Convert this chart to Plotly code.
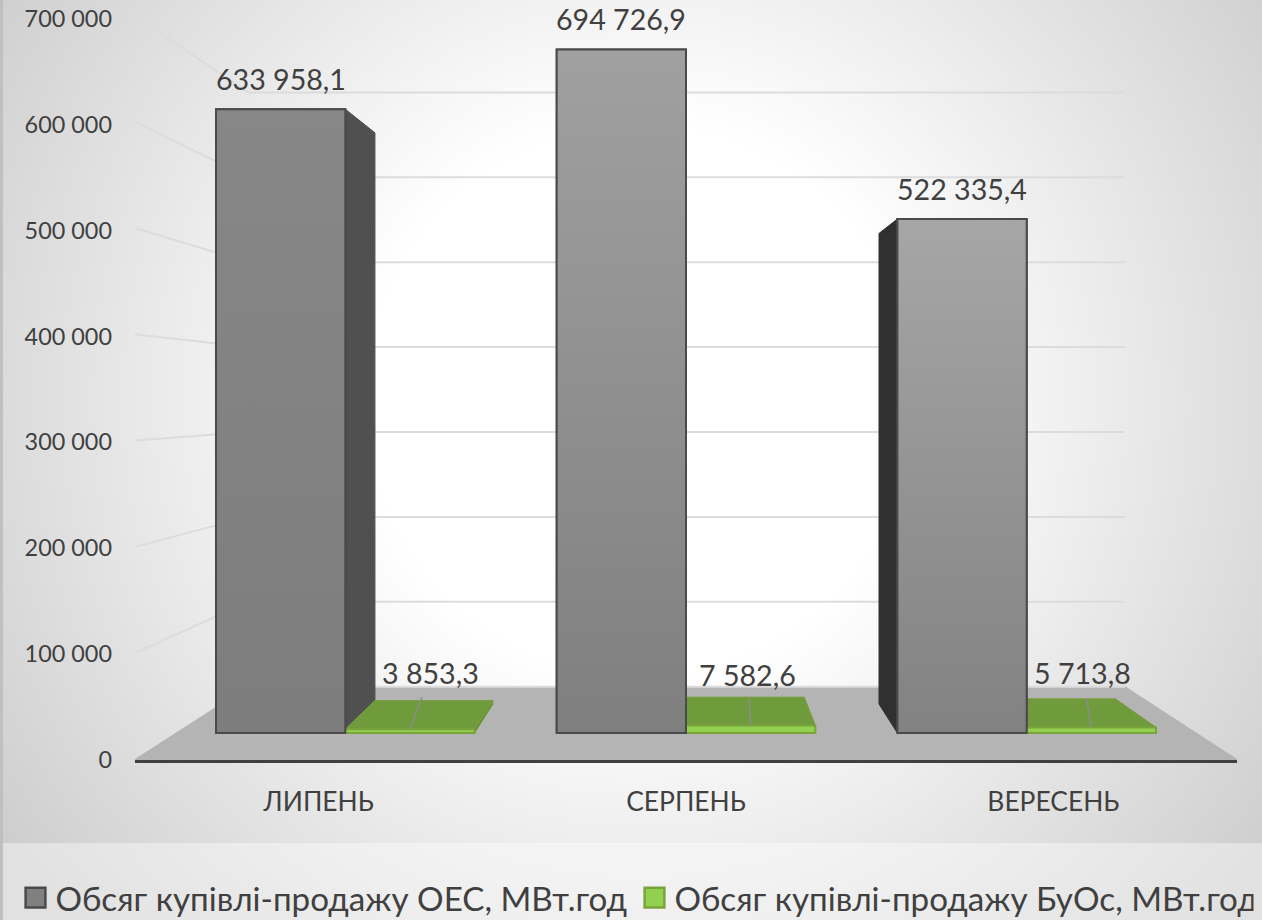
import base64
import plotly.graph_objects as go

# ---------- data ----------
categories = ["ЛИПЕНЬ", "СЕРПЕНЬ", "ВЕРЕСЕНЬ"]
oes_name = "Обсяг купівлі-продажу ОЕС, МВт.год"
buos_name = "Обсяг купівлі-продажу БуОс, МВт.год"
oes_values = [633958.1, 694726.9, 522335.4]
buos_values = [3853.3, 7582.6, 5713.8]
oes_labels = ["633 958,1", "694 726,9", "522 335,4"]
buos_labels = ["3 853,3", "7 582,6", "5 713,8"]
tick_values = [0, 100000, 200000, 300000, 400000, 500000, 600000, 700000]
tick_labels = ["0", "100 000", "200 000", "300 000", "400 000", "500 000", "600 000", "700 000"]

# ---------- layout / perspective constants ----------
W, H = 1262, 920
CAT_X0, CAT_STEP = 345.3, 340.7       # px of category 0, px per category (front of bars)
BAR_Y0, BAR_SCALE = 733.0, 0.000984   # px of value 0, px per unit (front of bars)
BACK_Y0, BACK_SCALE = 704.0, 0.000901 # plane at the back of the bars
BACK_K = 0.913
WALL_Y0, WALL_SCALE = 686.7, 0.000849 # back wall
AXIS_Y0, AXIS_SCALE = 759.5, 0.001063 # front edge (axis) plane
TICK_TOP = 19.0                       # px of the 700 000 tick label
FLOOR_L, FLOOR_R = 135.0, 1237.0
WALL_L, WALL_R = 248.0, 1125.0
BAR_W = 0.3795
FONT = "Lato"
TXT = "#404040"


def ux(px):
    return (px - CAT_X0) / CAT_STEP


def uy(px):
    return (BAR_Y0 - px) / BAR_SCALE


def back(x, v):
    return 1 + (x - 1) * BACK_K, uy(BACK_Y0 - v * BACK_SCALE)


def wall_y(v):
    return uy(WALL_Y0 - v * WALL_SCALE)


def axis_y(v):
    return uy(AXIS_Y0 - v * AXIS_SCALE)


x_range = [ux(0), ux(W)]
y_range = [uy(H), uy(0)]


def poly(points, fill, line=None, lw=1, **kw):
    xs, ys = zip(*points)
    return go.Scatter(x=list(xs) + [xs[0]], y=list(ys) + [ys[0]], mode="lines", fill="toself",
                      fillcolor=fill, line=dict(color=line or fill, width=lw),
                      hoverinfo="skip", showlegend=False, **kw)


fig = go.Figure()

# floor
fig.add_trace(poly([(ux(FLOOR_L), axis_y(0)), (ux(WALL_L), wall_y(0)),
                    (ux(WALL_R), wall_y(0)), (ux(FLOOR_R), axis_y(0))], "#b4b4b4"))
# back wall + left wall grid lines
for v in tick_values:
    fig.add_trace(go.Scatter(x=[ux(WALL_L), ux(WALL_R)], y=[wall_y(v), wall_y(v)], mode="lines",
                             line=dict(color="#dcdcdc", width=2), hoverinfo="skip", showlegend=False))
    if v:
        fig.add_trace(go.Scatter(x=[ux(FLOOR_L), ux(WALL_L)], y=[axis_y(v), wall_y(v)], mode="lines",
                                 line=dict(color="#dcdcdc", width=2), hoverinfo="skip", showlegend=False))

# side faces of the grey bars
for i, v in enumerate(oes_values):
    if i == 1:
        continue
    edge = i if i < 1 else i - BAR_W
    colour = "#505050" if i < 1 else "#303030"
    fig.add_trace(poly([(edge, v), back(edge, v), back(edge, 0), (edge, 0)], colour))

# top and side faces of the green bars
for i, v in enumerate(buos_values):
    l, r = i, i + BAR_W
    fig.add_trace(poly([(r, v), back(r, v), back(r, 0), (r, 0)], "#5f8a33", "#7a9e3e"))
    fig.add_trace(poly([(l, v), (r, v), back(r, v), back(l, v)], "#6f9b3c", "#7a9e3e"))

# real bars, on an overlaying pair of axes so they sit above the faces
fig.add_trace(go.Bar(x=[0, 1, 2], y=oes_values, name=oes_name, xaxis="x2", yaxis="y2",
                     marker=dict(color="#808080", line=dict(color="#4a4a4a", width=2)), hoverinfo="y"))
fig.add_trace(go.Bar(x=[0, 1, 2], y=buos_values, name=buos_name, xaxis="x2", yaxis="y2",
                     marker=dict(color="#92d050", line=dict(color="#7ba33c", width=2)), hoverinfo="y"))

# vertical shading of the grey bars
top_shades = ["#878787", "#a0a0a0", "#a6a6a6"]
bottom_shades = ["#7d7d7d", "#7f7f7f", "#828282"]
for i, v in enumerate(oes_values):
    xs = [i - BAR_W, i, i, i - BAR_W, i - BAR_W]
    ys = [0, 0, v, v, 0]
    fig.add_trace(go.Scatter(x=xs, y=ys, mode="lines", fill="toself", xaxis="x2", yaxis="y2",
                             line=dict(color="#4a4a4a", width=2),
                             fillgradient=dict(type="vertical", start=0, stop=v,
                                               colorscale=[[0, bottom_shades[i]], [1, top_shades[i]]]),
                             hoverinfo="skip", showlegend=False))

# carrier of the labelled axes
fig.add_trace(go.Scatter(x=[0, 1, 2], y=[0, 0, 0], xaxis="x3", yaxis="y3", mode="markers",
                         marker=dict(opacity=0), hoverinfo="skip", showlegend=False))

# data labels
ann = []
for i, (v, t) in enumerate(zip(oes_values, oes_labels)):
    ann.append(dict(x=i - BAR_W / 2, y=v, xref="x", yref="y", text=t, showarrow=False, yshift=30,
                    font=dict(family=FONT, size=28.6, color=TXT)))
leader_dx = [21, -3, -9]
leader_dy = [-56, -51, -54]
for i, (v, t) in enumerate(zip(buos_values, buos_labels)):
    ann.append(dict(x=i + BAR_W / 2, y=v, xref="x", yref="y", text=t, showarrow=True, arrowhead=0,
                    arrowwidth=1.5, arrowcolor="#8c8c8c", ax=leader_dx[i], ay=leader_dy[i],
                    startstandoff=6, font=dict(family=FONT, size=28.6, color=TXT)))

hidden = dict(visible=False, fixedrange=True)
svg = f'''<svg xmlns="http://www.w3.org/2000/svg" width="{W}" height="{H}" viewBox="0 0 {W} {H}" preserveAspectRatio="none">
<defs><radialGradient id="g" gradientUnits="userSpaceOnUse" cx="640" cy="400" r="780">
<stop offset="0.35" stop-color="#ffffff"/><stop offset="1" stop-color="#cdcdcd"/></radialGradient></defs>
<rect width="{W}" height="{H}" fill="url(#g)"/>
<rect y="843" width="{W}" height="{H - 843}" fill="#ffffff" fill-opacity="0.4"/>
<rect width="3" height="{H}" fill="#c0c0c0"/>
</svg>'''
bg = "data:image/svg+xml;base64," + base64.b64encode(svg.encode()).decode()

fig.update_layout(
    width=W, height=H, margin=dict(l=0, r=0, t=0, b=0, autoexpand=False),
    paper_bgcolor="#ffffff", plot_bgcolor="rgba(0,0,0,0)",
    barmode="group", bargap=1 - 2 * BAR_W, bargroupgap=0,
    font=dict(family=FONT, color=TXT),
    images=[dict(source=bg, xref="paper", yref="paper", x=0, y=1, sizex=1, sizey=1,
                 xanchor="left", yanchor="top", sizing="stretch", layer="below")],
    xaxis=dict(domain=[0, 1], range=x_range, **hidden),
    yaxis=dict(domain=[0, 1], range=y_range, **hidden),
    xaxis2=dict(overlaying="x", range=x_range, **hidden),
    yaxis2=dict(overlaying="y", range=y_range, **hidden),
    xaxis3=dict(domain=[FLOOR_L / W, FLOOR_R / W], range=[-0.5, 2.5], anchor="y3",
                tickmode="array", tickvals=[0, 1, 2], ticktext=categories,
                ticks="outside", ticklen=17, tickcolor="rgba(0,0,0,0)",
                showgrid=False, zeroline=False, showline=True, linecolor="#404040", linewidth=3,
                tickfont=dict(family=FONT, size=26.4, color=TXT), fixedrange=True),
    yaxis3=dict(domain=[(H - AXIS_Y0) / H, (H - TICK_TOP) / H],
                range=[0, 700000], anchor="free", position=112 / W, side="left",
                tickmode="array", tickvals=tick_values, ticktext=tick_labels,
                ticks="", showgrid=False, zeroline=False, showline=False,
                tickfont=dict(family=FONT, size=23.4, color=TXT), fixedrange=True),
    legend=dict(orientation="h", x=15.5 / W, xanchor="left", y=(H - 898) / H, yanchor="middle",
                font=dict(family=FONT, size=33.2, color=TXT),
                entrywidth=574, entrywidthmode="pixels", bgcolor="rgba(0,0,0,0)",
                tracegroupgap=0),
    annotations=ann,
    showlegend=True,
)

enlarge_swatches = ("document.querySelectorAll('.legendpoints path').forEach(function(p){"
                    "p.setAttribute('transform','translate(20,0) scale(1.65)');p.style.strokeWidth='1.5px';});")
fig.write_html("out.html", config=dict(displayModeBar=False),
               post_script="document.body.style.margin='0';document.body.style.overflow='hidden';"
                           + enlarge_swatches)
